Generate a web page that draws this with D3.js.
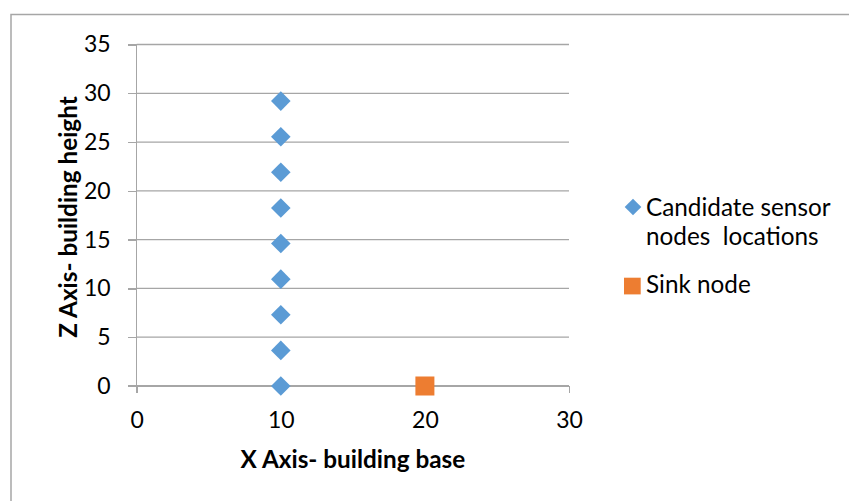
<!DOCTYPE html>
<html>
<head>
<meta charset="utf-8">
<script src="https://cdn.jsdelivr.net/npm/d3@7"></script>
<style>
  html, body { margin: 0; padding: 0; background: #fff; }
  svg text { font-family: Lato, "Open Sans", sans-serif; fill: #000; }
</style>
</head>
<body>
<svg id="chart" width="849" height="501"></svg>
<script>
// Candidate sensor nodes stacked along one column, plus the sink node
const sensorX = [10, 10, 10, 10, 10, 10, 10, 10, 10];
const sensorZ = [0, 3.65, 7.3, 10.95, 14.6, 18.25, 21.9, 25.55, 29.2];
const sinkX = [20];
const sinkZ = [0];
const xTicks = [0, 10, 20, 30];
const yTicks = [0, 5, 10, 15, 20, 25, 30, 35];
const seriesNames = ["Candidate sensor\nnodes  locations", "Sink node"];
const seriesColors = ["#5b9bd5", "#ed7d31"];

const svg = d3.select("#chart");
const tickFont = 23;
const labelFont = 24.3;

// Outer chart frame
svg.append("rect")
  .attr("x", 11).attr("y", 14.5)
  .attr("width", 860).attr("height", 520)
  .attr("fill", "none").attr("stroke", "#a6a6a6").attr("stroke-width", 1.5);

const x = d3.scaleLinear().domain([0, 30]).range([136.7, 569]);
const y = d3.scaleLinear().domain([0, 35]).range([386, 44.5]);

// Horizontal gridlines
svg.append("g")
  .selectAll("line").data(yTicks.filter(d => d > 0)).join("line")
  .attr("x1", x(0)).attr("x2", x(30))
  .attr("y1", d => y(d)).attr("y2", d => y(d))
  .attr("stroke", "#a6a6a6").attr("stroke-width", 1.3);

// Y axis
const yAxis = svg.append("g")
  .attr("transform", `translate(${x(0)},0)`)
  .call(d3.axisLeft(y).tickValues(yTicks).tickSize(9).tickPadding(17).tickFormat(d3.format("d")));
yAxis.select(".domain").attr("stroke", "#a6a6a6").attr("stroke-width", 1.3)
  .attr("d", `M0,${y(0) + 7}V${y(35)}`);
yAxis.selectAll(".tick line").attr("stroke", "#a6a6a6").attr("stroke-width", 1.3);
yAxis.selectAll(".tick text").attr("font-size", tickFont).attr("font-family", "Lato, sans-serif").attr("fill", "#000");

// X axis
const xAxis = svg.append("g")
  .attr("transform", `translate(0,${y(0)})`)
  .call(d3.axisBottom(x).tickValues(xTicks).tickSize(7).tickPadding(19).tickFormat(d3.format("d")));
xAxis.select(".domain").attr("stroke", "#a6a6a6").attr("stroke-width", 1.3)
  .attr("d", `M${x(0) - 9},0H${x(30)}`);
xAxis.selectAll(".tick line").attr("stroke", "#a6a6a6").attr("stroke-width", 1.3);
xAxis.selectAll(".tick text").attr("font-size", tickFont).attr("font-family", "Lato, sans-serif").attr("fill", "#000");
svg.selectAll(".domain, .tick line").attr("shape-rendering", "crispEdges");

// Axis titles
svg.append("text")
  .attr("x", (x(0) + x(30)) / 2).attr("y", 468)
  .attr("text-anchor", "middle").attr("font-weight", "bold").attr("font-size", labelFont)
  .text("X Axis- building base");
svg.append("text")
  .attr("transform", "translate(77,217) rotate(-90)")
  .attr("text-anchor", "middle").attr("font-weight", "bold").attr("font-size", labelFont)
  .text("Z Axis- building height");

// Markers
const diamond = r => `M0,${-r}L${r},0L0,${r}L${-r},0Z`;
svg.append("g").selectAll("path").data(sensorZ.map((z, i) => [sensorX[i], z])).join("path")
  .attr("transform", d => `translate(${x(d[0])},${y(d[1])})`)
  .attr("d", diamond(9.8))
  .attr("fill", seriesColors[0]);
svg.append("g").selectAll("rect").data(sinkZ.map((z, i) => [sinkX[i], z])).join("rect")
  .attr("x", d => x(d[0]) - 9.5).attr("y", d => y(d[1]) - 9.5)
  .attr("width", 19).attr("height", 19)
  .attr("fill", seriesColors[1]);

// Legend
const legend = svg.append("g");
legend.append("path").attr("transform", "translate(633,207)").attr("d", diamond(8.3)).attr("fill", seriesColors[0]);
const t1 = legend.append("text").attr("x", 646).attr("y", 215.5).attr("font-size", labelFont);
seriesNames[0].split("\n").forEach((line, i) => {
  t1.append("tspan").attr("x", 646).attr("dy", i === 0 ? 0 : 29.5).attr("xml:space", "preserve").text(line);
});
legend.append("rect").attr("x", 624).attr("y", 277.7).attr("width", 16.7).attr("height", 16.7).attr("fill", seriesColors[1]);
legend.append("text").attr("x", 646).attr("y", 293.3).attr("font-size", labelFont).text(seriesNames[1]);
</script>
</body>
</html>
